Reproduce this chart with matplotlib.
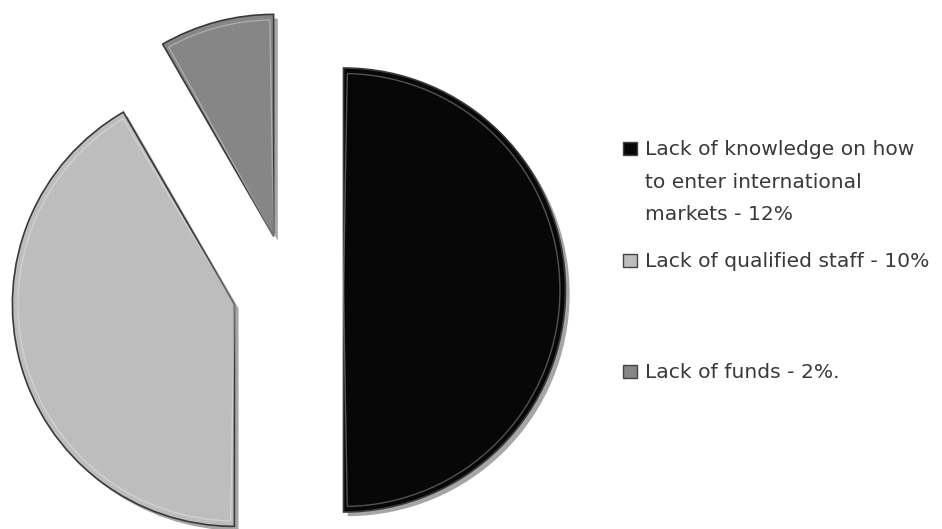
import matplotlib
matplotlib.use("Agg")
import matplotlib.pyplot as plt
from matplotlib.patches import Rectangle, Wedge
import matplotlib.patheffects as pe

labels = ["Lack of knowledge on how\nto enter international\nmarkets - 12%",
          "Lack of qualified staff - 10%",
          "Lack of funds - 2%."]
values = [12, 10, 2]
colors = ["#070707", "#bdbdbd", "#868686"]
explode_frac = [0.25, 0.25, 0.25]

W, H = 942, 529
fig = plt.figure(figsize=(W / 100, H / 100), dpi=100)
ax = fig.add_axes([0, 0, 1, 1])

cx, cy, r = 288, H - 290, 222
wedges, _ = ax.pie(values, colors=colors, explode=[e * r for e in explode_frac],
                   startangle=90, counterclock=False, center=(cx, cy), radius=r,
                   wedgeprops=dict(edgecolor="#3a3a3a", linewidth=1.2))
for w in wedges:
    w.set_path_effects([pe.SimplePatchShadow(offset=(3, -3), shadow_rgbFace="#000000", alpha=0.35),
                        pe.Normal()])
    hi = Wedge(w.center, w.r * 0.975, w.theta1 + 1, w.theta2 - 1, fill=False,
               edgecolor="white", linewidth=1.0, alpha=0.3)
    ax.add_patch(hi)

ax.set_xlim(0, W)
ax.set_ylim(0, H)
ax.set_aspect("equal")
ax.axis("off")

# legend
baselines = [155, 267, 378]
for lab, col, yb in zip(labels, colors, baselines):
    ax.add_patch(Rectangle((623, H - yb), 14, 13, facecolor=col,
                           edgecolor="#444444", linewidth=1.0))
    for i, line in enumerate(lab.split("\n")):
        ax.text(645, H - yb - i * 32.5, line, fontsize=14.6, family="DejaVu Sans",
                color="#3a3a3a", va="baseline", ha="left")

fig.savefig("out.png", dpi=100)
